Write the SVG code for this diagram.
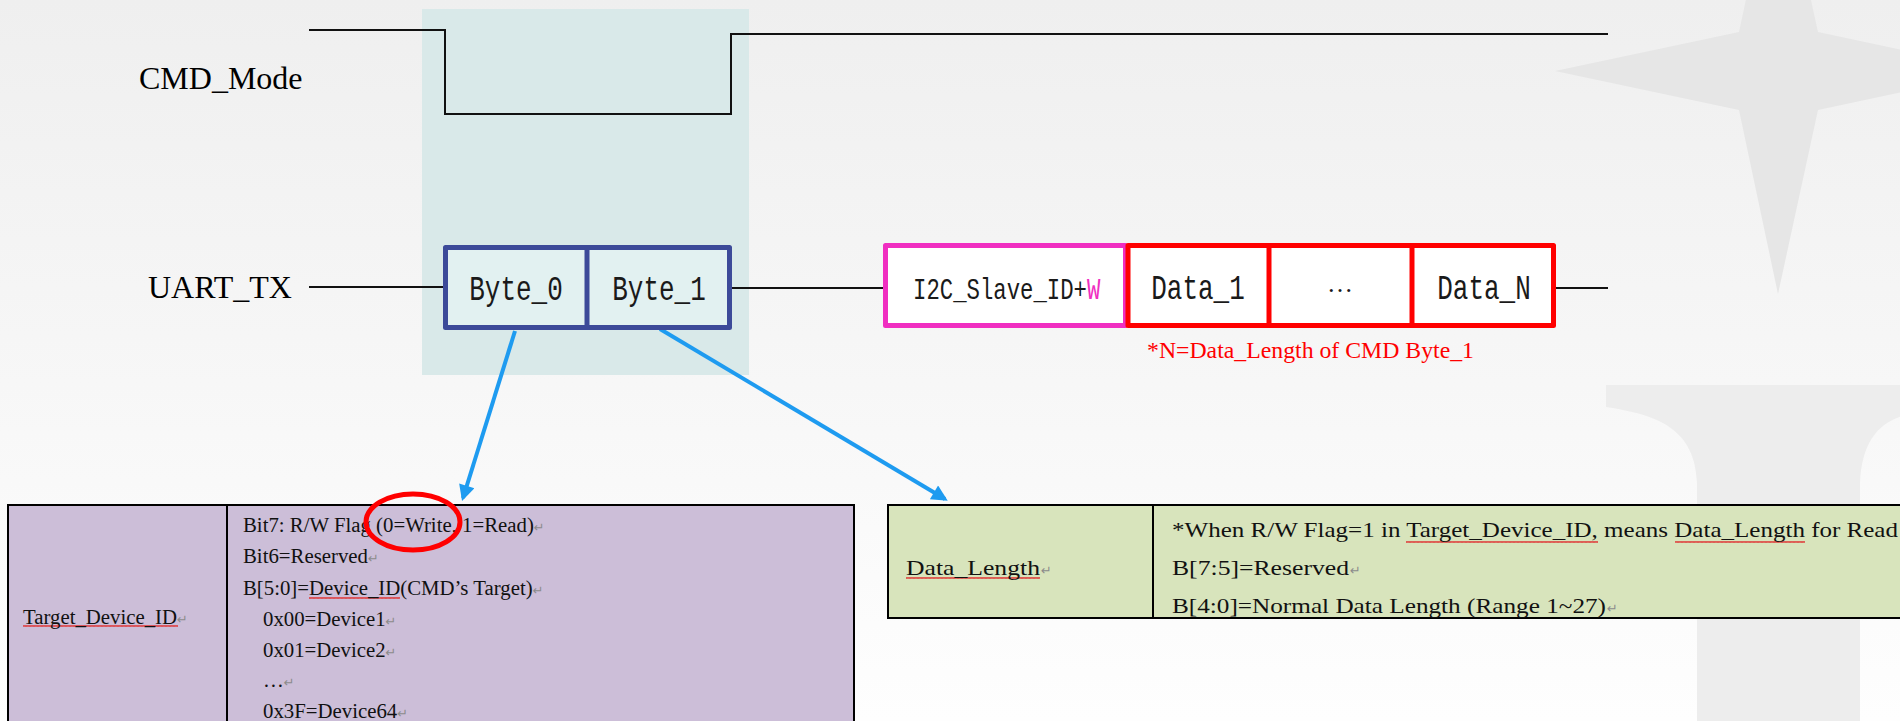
<svg xmlns="http://www.w3.org/2000/svg" width="1900" height="721" viewBox="0 0 1900 721">
<defs>
<linearGradient id="bg" x1="0" y1="0" x2="0" y2="1">
<stop offset="0" stop-color="#EFEFEF"/>
<stop offset="1" stop-color="#FEFEFE"/>
</linearGradient>
<marker id="ah" viewBox="0 0 10 10" refX="8" refY="5" markerUnits="userSpaceOnUse" markerWidth="20" markerHeight="16" orient="auto">
<path d="M0,0 L10,5 L0,10 z" fill="#1E9BF0"/>
</marker>
<pattern id="wave" patternUnits="userSpaceOnUse" width="4" height="4">
<path d="M0,3 L1,1 L2,3 L3,1 L4,3" fill="none" stroke="#E03030" stroke-width="0.9"/>
</pattern>
<style>
.sig{font-family:"Liberation Serif","Times New Roman",serif;font-size:32px;fill:#000}
.wire{stroke:#111;stroke-width:2;fill:none}
.box{font-family:"Liberation Mono","DejaVu Sans Mono",monospace;font-size:26px;fill:#1a1a1a;text-anchor:middle}
.i2c{font-family:"Liberation Mono","DejaVu Sans Mono",monospace;font-size:22.3px;fill:#1a1a1a}
.tb{font-family:"Liberation Serif","Times New Roman",serif;font-size:20.8px;fill:#111}
.tb2{font-family:"Liberation Serif","Times New Roman",serif;font-size:22px;fill:#111}
.pm{font-family:"DejaVu Sans",sans-serif;font-size:13px;fill:#8C8C8C}
.arrow{stroke:#1E9BF0;stroke-width:4;fill:none;marker-end:url(#ah)}
.grid{stroke:#000;stroke-width:2}
</style>
</defs>

<rect x="0" y="0" width="1900" height="721" fill="url(#bg)"/>
<g id="watermark">
<polygon points="1778,-150 1818,32 2002,71 1818,110 1778,294 1739,110 1555,71 1739,32" fill="#E6E6E6"/>
<path d="M1606,385 L1910,385 L1910,414 C1880,420 1862,440 1860,483 L1860,721 L1697,721 L1697,483 C1695,430 1660,415 1606,407 Z" fill="#EDEDED"/>
</g>

<g id="cmd-highlight">
<rect x="422" y="9" width="327" height="366" fill="#D9E9E9"/>
</g>

<g id="signal-labels">
<text class="sig" x="139" y="89">CMD_Mode</text>
<text class="sig" x="148" y="298">UART_TX</text>
</g>

<g id="connectors">
<polyline class="wire" points="309,30 445,30 445,114 731,114 731,34 1608,34"/>
<line class="wire" x1="309" y1="287" x2="443" y2="287"/>
<line class="wire" x1="732" y1="288" x2="883" y2="288"/>
<line class="wire" x1="1556" y1="288" x2="1608" y2="288"/>
<line class="arrow" x1="515" y1="331" x2="463" y2="498"/>
<line class="arrow" x1="660" y1="329" x2="945" y2="499"/>
</g>

<g id="cmd-bytes">
<rect x="445.5" y="247.5" width="284" height="80" fill="#E2F1F1" stroke="#3C4A99" stroke-width="5" stroke-linejoin="round"/>
<line x1="587" y1="247.5" x2="587" y2="327.5" stroke="#3C4A99" stroke-width="5"/>
<text class="box" transform="translate(516,300) scale(1,1.32)">Byte_0</text>
<text class="box" transform="translate(659,300) scale(1,1.32)">Byte_1</text>
</g>

<g id="i2c-slave">
<rect x="885.5" y="245.5" width="240" height="80" fill="#FFFFFF" stroke="#F02EC1" stroke-width="5" stroke-linejoin="round"/>
<text class="i2c" transform="translate(913,299) scale(1,1.3)">I2C_Slave_ID+<tspan style="fill:#F02EC1">W</tspan></text>
</g>

<g id="data-bytes">
<rect x="1128" y="245.5" width="425.5" height="80" fill="#FFFFFF" stroke="#FF0000" stroke-width="5" stroke-linejoin="round"/>
<line x1="1269" y1="245.5" x2="1269" y2="325.5" stroke="#FF0000" stroke-width="5"/>
<line x1="1412" y1="245.5" x2="1412" y2="325.5" stroke="#FF0000" stroke-width="5"/>
<text class="box" transform="translate(1198,299) scale(1,1.32)">Data_1</text>
<text class="box" x="1340" y="292" style="font-size:26px;font-family:'Liberation Serif',serif">…</text>
<text class="box" transform="translate(1484,299) scale(1,1.32)">Data_N</text>
</g>

<g id="note">
<text x="1147" y="358" font-family="Liberation Serif, Times New Roman, serif" font-size="23" fill="#FF0000" textLength="327" lengthAdjust="spacingAndGlyphs">*N=Data_Length of CMD Byte_1</text>
</g>

<g id="table-target-device">
<rect x="8" y="505" width="846" height="230" fill="#CCBED8" class="grid"/>
<line class="grid" x1="227" y1="505" x2="227" y2="730"/>
<rect x="23" y="625" width="155" height="4" fill="url(#wave)"/>
<rect x="309" y="596" width="91" height="4" fill="url(#wave)"/>
<text class="tb" x="23" y="624">Target_Device_ID<tspan class="pm">↵</tspan></text>
<text class="tb" x="243" y="532">Bit7: R/W Flag (0=Write, 1=Read)<tspan class="pm">↵</tspan></text>
<text class="tb" x="243" y="563">Bit6=Reserved<tspan class="pm">↵</tspan></text>
<text class="tb" x="243" y="595">B[5:0]=Device_ID(CMD’s Target)<tspan class="pm">↵</tspan></text>
<text class="tb" x="263" y="626">0x00=Device1<tspan class="pm">↵</tspan></text>
<text class="tb" x="263" y="657">0x01=Device2<tspan class="pm">↵</tspan></text>
<text class="tb" x="263" y="687">…<tspan class="pm">↵</tspan></text>
<text class="tb" x="263" y="718">0x3F=Device64<tspan class="pm">↵</tspan></text>
<ellipse cx="413" cy="522" rx="47" ry="28" fill="none" stroke="#FF0000" stroke-width="5"/>
</g>

<g id="table-data-length">
<rect x="888" y="505" width="1030" height="113" fill="#D8E4BC" class="grid"/>
<line class="grid" x1="1153" y1="505" x2="1153" y2="618"/>
<rect x="906" y="577" width="134" height="4" fill="url(#wave)"/>
<rect x="1406" y="539" width="192" height="4" fill="url(#wave)"/>
<rect x="1675" y="539" width="130" height="4" fill="url(#wave)"/>
<text class="tb2" x="906" y="575" textLength="134" lengthAdjust="spacingAndGlyphs">Data_Length</text>
<text class="pm" x="1041" y="575">↵</text>
<text class="tb2" x="1172" y="537" textLength="726" lengthAdjust="spacingAndGlyphs">*When R/W Flag=1 in Target_Device_ID, means Data_Length for Read</text>
<text class="tb2" x="1172" y="575" textLength="177" lengthAdjust="spacingAndGlyphs">B[7:5]=Reserved</text>
<text class="pm" x="1350" y="575">↵</text>
<text class="tb2" x="1172" y="613" textLength="434" lengthAdjust="spacingAndGlyphs">B[4:0]=Normal Data Length (Range 1~27)</text>
<text class="pm" x="1607" y="613">↵</text>
</g>
</svg>
